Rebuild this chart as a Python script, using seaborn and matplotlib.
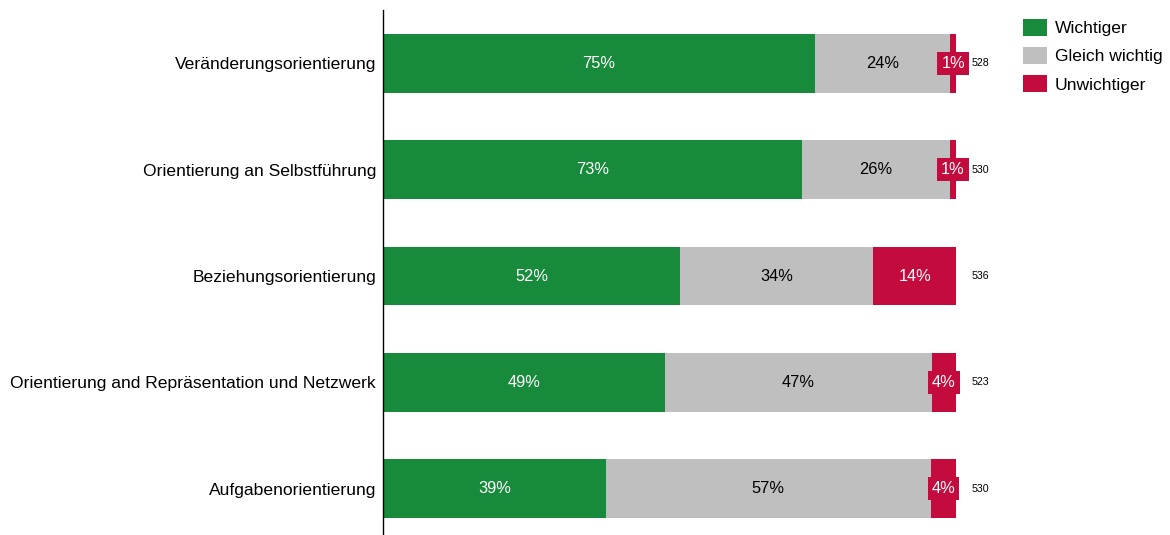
import matplotlib
matplotlib.use("Agg")
import matplotlib.pyplot as plt
import seaborn as sns
import pandas as pd
import numpy as np
from matplotlib.patches import Patch

categories = ["Veränderungsorientierung", "Orientierung an Selbstführung",
              "Beziehungsorientierung", "Orientierung and Repräsentation und Netzwerk",
              "Aufgabenorientierung"]
wichtiger = [75.4, 73.1, 51.8, 49.2, 38.9]
gleich = [23.6, 25.8, 33.8, 46.6, 56.7]
unwichtiger = [1.0, 1.1, 14.4, 4.2, 4.4]
n_values = [528, 530, 536, 523, 530]
series_names = ["Wichtiger", "Gleich wichtig", "Unwichtiger"]

GREEN = "#178A3B"
GRAY = "#BFBFBF"
RED = "#C30C3D"

sns.set_theme(style="white")
plt.rcParams["font.family"] = ["Liberation Sans", "DejaVu Sans"]

df = pd.DataFrame({"cat": categories, "w": wichtiger, "g": gleich, "u": unwichtiger})
df["c1"] = df["w"]
df["c2"] = df["w"] + df["g"]
df["c3"] = df["w"] + df["g"] + df["u"]

fig = plt.figure(figsize=(11.7, 5.35), dpi=100)
ax = fig.add_axes([383/1170, 0, 573/1170, 525/535])

bw = 0.555
for col, c in [("c3", RED), ("c2", GRAY), ("c1", GREEN)]:
    sns.barplot(data=df, x=col, y="cat", orient="h", color=c, width=bw, ax=ax,
                saturation=1, order=categories, linewidth=0, edgecolor="none")

for i in range(len(categories)):
    w, g, u = wichtiger[i], gleich[i], unwichtiger[i]
    ax.text(w/2, i, f"{round(w)}%", ha="center", va="center", color="white", fontsize=11.8)
    ax.text(w + g/2, i, f"{round(g)}%", ha="center", va="center", color="black", fontsize=11.8)
    bbox = dict(boxstyle="square,pad=0.24", facecolor=RED, edgecolor="none") if u < 8 else None
    ax.text(w + g + u/2, i, f"{round(u)}%", ha="center", va="center", color="white",
            fontsize=11.8, bbox=bbox, clip_on=False, zorder=5)
    ax.text(102.8, i, str(n_values[i]), ha="left", va="center", color="black",
            fontsize=7.7, clip_on=False)

ax.set_xlim(0, 100)
ax.set_ylim(4.4376, -0.5035)
ax.set_xlabel("")
ax.set_ylabel("")
ax.set_xticks([])
for s in ["top", "right", "bottom"]:
    ax.spines[s].set_visible(False)
ax.spines["left"].set_color("black")
ax.spines["left"].set_linewidth(1)
ax.tick_params(axis="y", left=False, length=0, pad=5, labelsize=12.6, colors="black")

handles = [Patch(facecolor=c, edgecolor="none") for c in [GREEN, GRAY, RED]]
fig.legend(handles, series_names, loc="upper left", bbox_to_anchor=(1023/1170, 1 - 19/535),
           frameon=False, fontsize=12.6, handlelength=1.37, handleheight=1.09,
           labelspacing=0.62, handletextpad=0.46, borderaxespad=0, borderpad=0,
           labelcolor="black")

fig.savefig("out.png", dpi=100)
